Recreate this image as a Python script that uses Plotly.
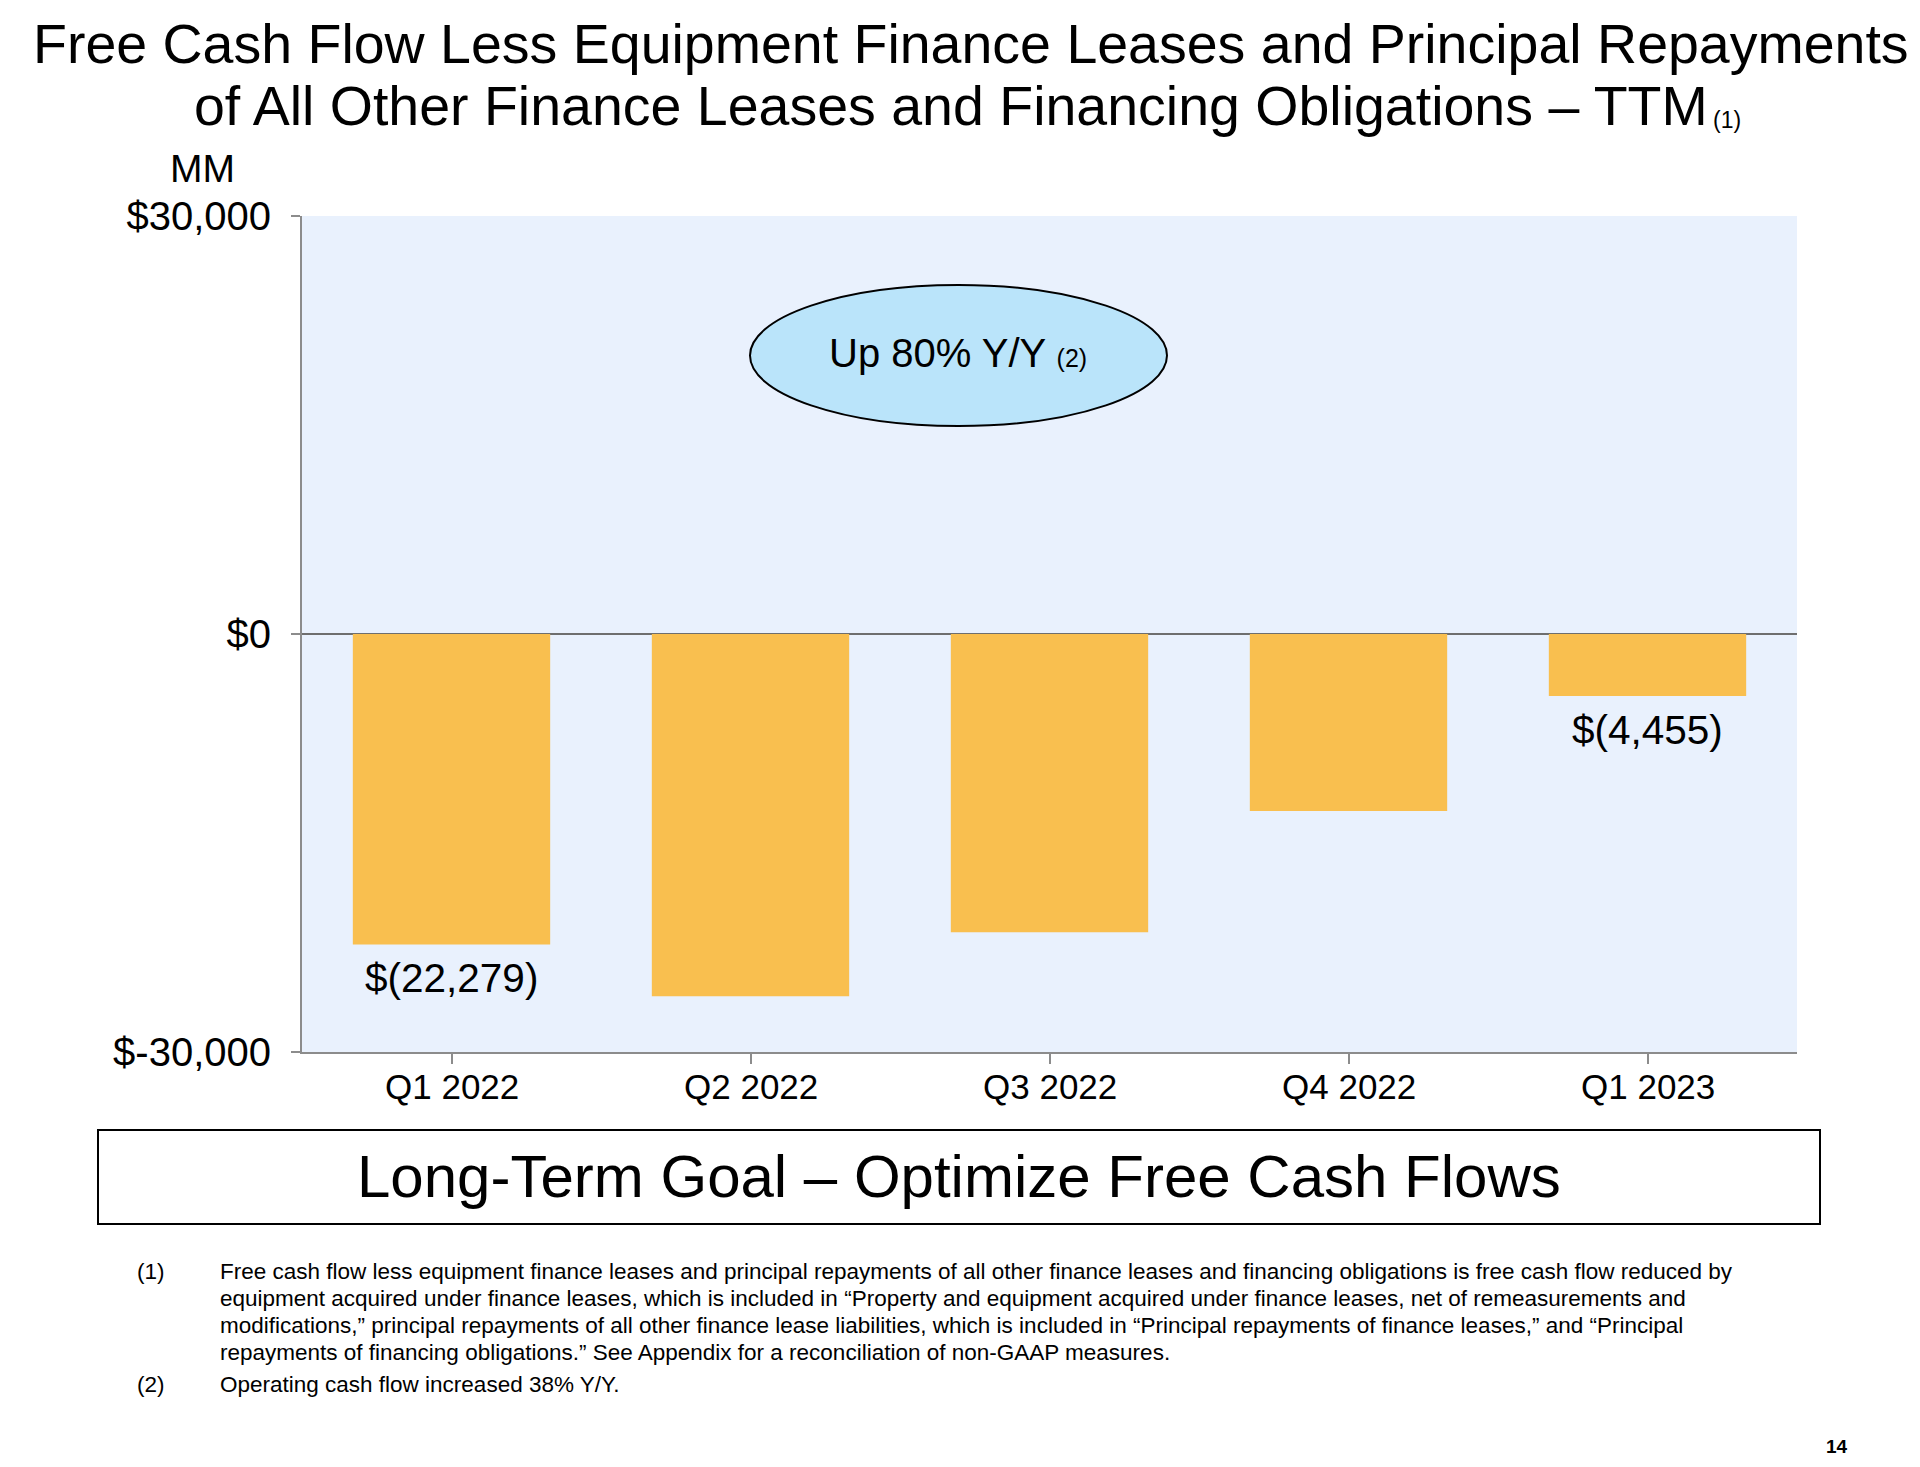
import plotly.graph_objects as go

# ---- data ----
categories = ["Q1 2022", "Q2 2022", "Q3 2022", "Q4 2022", "Q1 2023"]
values = [-22279, -26000, -21400, -12700, -4455]
value_labels = ["$(22,279)", None, None, None, "$(4,455)"]
y_tickvals = [-30000, 0, 30000]
y_ticktext = ["$-30,000", "$0", "$30,000"]

title_line1 = "Free Cash Flow Less Equipment Finance Leases and Principal Repayments"
title_line2 = "of All Other Finance Leases and Financing Obligations \u2013 TTM"
goal_text = "Long-Term Goal \u2013 Optimize Free Cash Flows"
callout_text = "Up 80% Y/Y <span style='font-size:25px'>(2)</span>"
footnotes = [
    ("(1)", "Free cash flow less equipment finance leases and principal repayments of all other finance leases and financing obligations is free cash flow reduced by"),
    ("", "equipment acquired under finance leases, which is included in \u201cProperty and equipment acquired under finance leases, net of remeasurements and"),
    ("", "modifications,\u201d principal repayments of all other finance lease liabilities, which is included in \u201cPrincipal repayments of finance leases,\u201d and \u201cPrincipal"),
    ("", "repayments of financing obligations.\u201d See Appendix for a reconciliation of non-GAAP measures."),
    ("(2)", "Operating cash flow increased 38% Y/Y."),
]

# ---- layout geometry (page pixels) ----
W, H = 1920, 1467
OFF = 8  # page body margin
PL, PR, PT, PB = 302, 1797, 216, 1052
FONT = "Liberation Sans, Arial, sans-serif"


def px(x):
    return (x - PL) / (PR - PL)


def py(y):
    return (PB - y) / (PB - PT)


fig = go.Figure()
fig.add_trace(go.Bar(
    x=categories, y=values,
    marker=dict(color="#F9BF4F", line=dict(width=0)),
    hoverinfo="skip",
))

annotations = []
for c, v, lab in zip(categories, values, value_labels):
    if lab:
        annotations.append(dict(
            x=c, y=v, xref="x", yref="y", text=lab, showarrow=False,
            yanchor="middle", yshift=-34,
            font=dict(size=40.5, color="black", family=FONT),
        ))
for c in categories:
    annotations.append(dict(
        x=c, y=0, xref="x", yref="paper", text=c, showarrow=False,
        yanchor="middle", yshift=-34,
        font=dict(size=35, color="black", family=FONT),
    ))

annotations += [
    dict(x=px(971), y=py(44), xref="paper", yref="paper", text=title_line1,
         showarrow=False, xanchor="center", yanchor="middle",
         font=dict(size=55.5, color="black", family=FONT)),
    dict(x=px(951), y=py(106), xref="paper", yref="paper", text=title_line2,
         showarrow=False, xanchor="center", yanchor="middle",
         font=dict(size=55.5, color="black", family=FONT)),
    dict(x=px(1711), y=py(120), xref="paper", yref="paper", text="(1)",
         showarrow=False, xanchor="left", yanchor="middle",
         font=dict(size=23, color="black", family=FONT)),
    dict(x=px(202), y=py(169), xref="paper", yref="paper", text="MM",
         showarrow=False, xanchor="center", yanchor="middle",
         font=dict(size=39, color="black", family=FONT)),
    dict(x=px(958), y=py(353), xref="paper", yref="paper", text=callout_text,
         showarrow=False, xanchor="center", yanchor="middle",
         font=dict(size=40, color="black", family=FONT)),
    dict(x=px(959), y=py(1176), xref="paper", yref="paper", text=goal_text,
         showarrow=False, xanchor="center", yanchor="middle",
         font=dict(size=60, color="black", family=FONT)),
    dict(x=px(1837), y=py(1446), xref="paper", yref="paper", text="<b>14</b>",
         showarrow=False, xanchor="center", yanchor="middle",
         font=dict(size=19, color="black", family=FONT)),
]

foot_y = [1271, 1298, 1325, 1352, 1384]
for (num, txt), yy in zip(footnotes, foot_y):
    if num:
        annotations.append(dict(x=px(135), y=py(yy), xref="paper", yref="paper", text=num,
                                showarrow=False, xanchor="left", yanchor="middle",
                                font=dict(size=22.5, color="black", family=FONT)))
    annotations.append(dict(x=px(218), y=py(yy), xref="paper", yref="paper", text=txt,
                            showarrow=False, xanchor="left", yanchor="middle",
                            font=dict(size=22.5, color="black", family=FONT)))

shapes = [
    dict(type="circle", xref="paper", yref="paper",
         x0=px(750), x1=px(1167), y0=py(426), y1=py(285),
         fillcolor="#BAE4FA", line=dict(color="black", width=2), layer="above"),
    dict(type="rect", xref="paper", yref="paper",
         x0=px(98), x1=px(1820), y0=py(1224), y1=py(1130),
         fillcolor="white", line=dict(color="black", width=2)),
]

fig.update_layout(
    width=W - 2 * OFF, height=H - 2 * OFF,
    margin=dict(l=PL - OFF, r=W - PR - OFF, t=PT - OFF, b=H - PB - OFF, pad=0),
    paper_bgcolor="white", plot_bgcolor="#E9F1FD",
    showlegend=False, bargap=0.34,
    annotations=annotations, shapes=shapes,
    font=dict(family=FONT, color="black"),
)
fig.update_xaxes(
    showgrid=False, showline=True, linecolor="#8C8C8C", linewidth=2,
    ticks="outside", ticklen=10, tickcolor="#8C8C8C", tickwidth=2,
    showticklabels=False, fixedrange=True,
)
fig.update_yaxes(
    range=[-30000, 30000], tickvals=y_tickvals, ticktext=y_ticktext,
    showgrid=False, showline=True, linecolor="#8C8C8C", linewidth=2,
    ticks="outside", ticklen=9, tickcolor="#8C8C8C", tickwidth=2,
    zeroline=True, zerolinecolor="#6E6E6E", zerolinewidth=2,
    tickfont=dict(size=40, color="black", family=FONT),
    ticklabelstandoff=12, fixedrange=True,
)

fig.write_html("out.html", config={"displayModeBar": False})
